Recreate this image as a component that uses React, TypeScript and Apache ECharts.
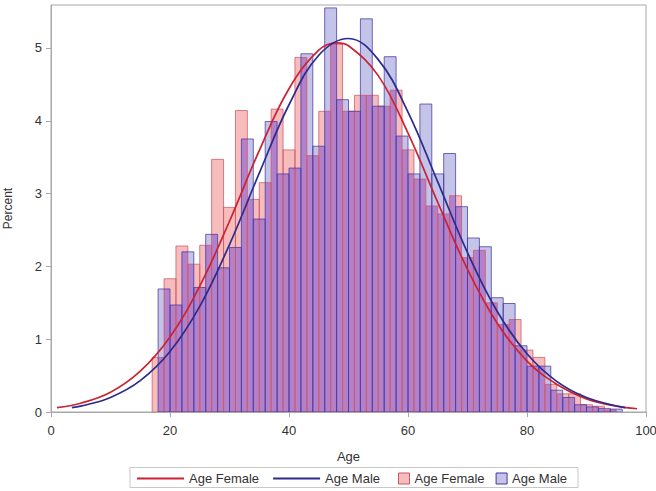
import React, { useEffect, useRef } from 'react';
import * as echarts from 'echarts';

// Histogram bins (percent), width 2 years
const binWidth = 2;
const femaleBinStarts = [17, 19, 21, 23, 25, 27, 29, 31, 33, 35, 37, 39, 41, 43, 45, 47, 49, 51, 53, 55, 57, 59, 61, 63, 65, 67, 69, 71, 73, 75, 77, 79, 81, 83, 85, 87, 89, 91, 93];
const femalePercent = [0.75, 1.83, 2.28, 2.03, 2.29, 3.47, 2.81, 4.14, 2.92, 3.15, 4.16, 3.6, 4.87, 3.52, 4.13, 5.05, 4.13, 4.35, 4.35, 4.2, 4.42, 3.6, 3.2, 2.83, 2.72, 2.97, 2.12, 2.22, 1.5, 1.2, 1.27, 0.85, 0.75, 0.38, 0.25, 0.25, 0.1, 0.08, 0.03];
const maleBinStarts = [18, 20, 22, 24, 26, 28, 30, 32, 34, 36, 38, 40, 42, 44, 46, 48, 50, 52, 54, 56, 58, 60, 62, 64, 66, 68, 70, 72, 74, 76, 78, 80, 82, 84, 86, 88, 90, 92, 94];
const malePercent = [1.69, 1.47, 2.2, 1.71, 2.44, 1.98, 2.26, 3.75, 2.65, 3.99, 3.27, 3.35, 4.92, 3.65, 5.55, 4.29, 4.13, 5.4, 4.2, 4.88, 3.79, 3.27, 4.23, 3.27, 3.55, 2.82, 2.39, 2.27, 1.57, 1.49, 0.91, 0.63, 0.63, 0.3, 0.2, 0.1, 0.07, 0.05, 0.04];

// Fitted normal curves
const femaleCurveAge = [1, 5, 10, 15, 20, 25, 30, 35, 40, 45, 48, 50, 55, 60, 65, 70, 75, 80, 85, 90, 95, 98.5];
const femaleCurvePercent = [0.06, 0.12, 0.27, 0.56, 1.03, 1.73, 2.62, 3.59, 4.44, 4.97, 5.07, 5.03, 4.62, 3.83, 2.88, 1.96, 1.22, 0.7, 0.38, 0.18, 0.08, 0.045];
const maleCurveAge = [3.5, 5, 10, 15, 20, 25, 30, 35, 40, 45, 50, 55, 60, 65, 70, 75, 80, 85, 90, 96.5];
const maleCurvePercent = [0.06, 0.08, 0.2, 0.43, 0.83, 1.45, 2.3, 3.28, 4.22, 4.9, 5.13, 4.84, 4.12, 3.16, 2.19, 1.38, 0.8, 0.42, 0.2, 0.06];

const xTicks = [0, 20, 40, 60, 80, 100];
const yTicks = [0, 1, 2, 3, 4, 5];

const PINK = '#f7bdbd';
const LAVENDER = '#c4c4e9';
const PURPLE = '#b381c9';
const FEMALE_STROKE = 'rgba(205,85,100,0.75)';
const MALE_STROKE = 'rgba(70,55,160,0.75)';
const RED = '#cc2233';
const NAVY = '#2b2b8e';
const FONT = "'Liberation Sans', Arial, sans-serif";

function valueAt(starts: number[], vals: number[], u: number) {
  for (let i = 0; i < starts.length; i++) {
    if (u >= starts[i] && u < starts[i] + binWidth) return vals[i];
  }
  return 0;
}

export default function App() {
  const ref = useRef<HTMLDivElement>(null);
  useEffect(() => {
    document.body.style.margin = '0';
    const chart = echarts.init(ref.current!, null, { renderer: 'svg' });
    const femaleData = femaleBinStarts.map((s, i) => [s, s + binWidth, femalePercent[i]]);
    const maleData = maleBinStarts.map((s, i) => [s, s + binWidth, malePercent[i]]);
    // overlap of the two histograms, one-year columns
    const overlapData: number[][] = [];
    for (let u = femaleBinStarts[0]; u < maleBinStarts[maleBinStarts.length - 1] + binWidth; u++) {
      const m = Math.min(valueAt(femaleBinStarts, femalePercent, u), valueAt(maleBinStarts, malePercent, u));
      if (m > 0) overlapData.push([u, u + 1, m]);
    }
    const renderBar = (fill: string, stroke: string) => (params: any, api: any) => {
      const a = api.coord([api.value(0), api.value(2)]);
      const b = api.coord([api.value(1), 0]);
      return {
        type: 'rect',
        shape: { x: a[0], y: a[1], width: b[0] - a[0], height: b[1] - a[1] },
        style: { fill, stroke, lineWidth: 1 },
      };
    };
    const base = { type: 'custom', encode: { x: [0, 1], y: 2 }, clip: true, silent: true };
    chart.setOption({
      animation: false,
      textStyle: { fontFamily: FONT },
      grid: { left: 51, right: 10, top: 5, bottom: 79, show: true, borderColor: '#a8a8a8', borderWidth: 1, containLabel: false, outerBoundsMode: 'none' },
      xAxis: {
        type: 'value', min: 0, max: 100, interval: 20,
        name: 'Age', nameLocation: 'middle', nameGap: 38,
        nameTextStyle: { color: '#333', fontSize: 13, fontFamily: FONT },
        axisLine: { show: true, lineStyle: { color: '#a8a8a8' } },
        axisTick: { show: true, inside: false, length: 5, lineStyle: { color: '#a8a8a8' }, customValues: xTicks },
        axisLabel: { color: '#333', fontSize: 13, margin: 12, fontFamily: FONT, customValues: xTicks },
        splitLine: { show: false },
      },
      yAxis: {
        type: 'value', min: 0, max: 5.59, interval: 1,
        name: 'Percent', nameLocation: 'middle', nameGap: 37, nameRotate: 90,
        nameTextStyle: { color: '#333', fontSize: 12, fontFamily: FONT },
        axisLine: { show: true, lineStyle: { color: '#a8a8a8' } },
        axisTick: { show: true, inside: false, length: 5, lineStyle: { color: '#a8a8a8' }, customValues: yTicks },
        axisLabel: { color: '#333', fontSize: 13, margin: 9, fontFamily: FONT, customValues: yTicks },
        splitLine: { show: false },
      },
      legend: [
        {
          left: 137, top: 472, padding: 0, itemWidth: 47, itemHeight: 2, itemGap: 14,
          textStyle: { color: '#333', fontSize: 13, fontFamily: FONT },
          data: [
            { name: 'Age Female', icon: 'rect', itemStyle: { color: RED } },
            { name: 'Age Male', icon: 'rect', itemStyle: { color: NAVY } },
          ],
        },
        {
          left: 398, top: 472, padding: 0, itemWidth: 11, itemHeight: 11, itemGap: 11,
          textStyle: { color: '#333', fontSize: 13, fontFamily: FONT },
          formatter: (n: string) => n.replace('\u200b', ''),
          data: [
            { name: 'Age Female\u200b', icon: 'rect', itemStyle: { color: PINK, borderColor: 'rgb(205,85,100)', borderWidth: 1 } },
            { name: 'Age Male\u200b', icon: 'rect', itemStyle: { color: LAVENDER, borderColor: 'rgb(70,55,160)', borderWidth: 1 } },
          ],
        },
      ],
      graphic: [
        { type: 'rect', shape: { x: 130, y: 467.5, width: 448, height: 20 }, style: { fill: 'none', stroke: '#c8c8c8', lineWidth: 1 }, silent: true },
      ],
      series: [
        { ...base, name: 'Age Female\u200b', renderItem: renderBar(PINK, 'none'), data: femaleData, z: 1,
          itemStyle: { color: PINK, borderColor: FEMALE_STROKE, borderWidth: 1 } },
        { ...base, name: 'Age Male\u200b', renderItem: renderBar(LAVENDER, 'none'), data: maleData, z: 2,
          itemStyle: { color: LAVENDER, borderColor: MALE_STROKE, borderWidth: 1 } },
        { ...base, name: 'overlap', renderItem: renderBar(PURPLE, 'none'), data: overlapData, z: 3 },
        { ...base, name: 'Age Female\u200b', renderItem: renderBar('none', FEMALE_STROKE), data: femaleData, z: 4 },
        { ...base, name: 'Age Male\u200b', renderItem: renderBar('none', MALE_STROKE), data: maleData, z: 5 },
        {
          name: 'Age Female', type: 'line', smooth: 0.4, symbol: 'none', z: 8,
          lineStyle: { color: RED, width: 1.7 }, itemStyle: { color: RED },
          data: femaleCurveAge.map((x, i) => [x, femaleCurvePercent[i]]),
        },
        {
          name: 'Age Male', type: 'line', smooth: 0.4, symbol: 'none', z: 9,
          lineStyle: { color: NAVY, width: 1.7 }, itemStyle: { color: NAVY },
          data: maleCurveAge.map((x, i) => [x, maleCurvePercent[i]]),
        },
      ],
    });
    return () => chart.dispose();
  }, []);
  return <div ref={ref} style={{ width: 656, height: 491 }} />;
}
